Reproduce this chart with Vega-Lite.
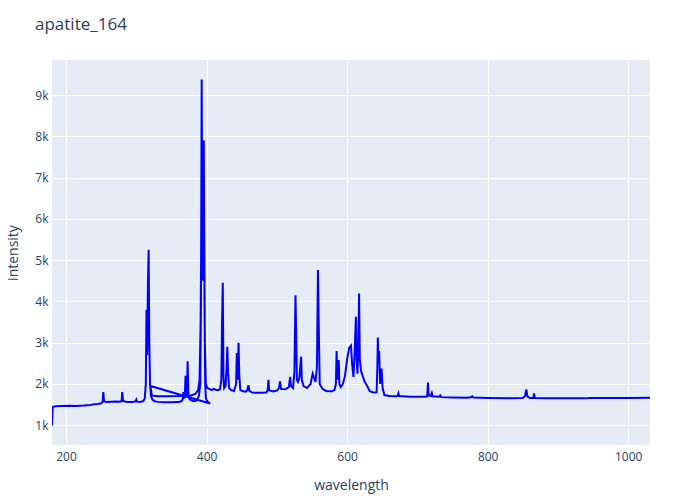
{
  "$schema": "https://vega.github.io/schema/vega-lite/v6.json",
  "autosize": "none",
  "width": 598,
  "height": 385,
  "padding": {"left": 52, "top": 60, "right": 50, "bottom": 55},
  "background": "white",
  "title": {"text": "apatite_164", "anchor": "start", "frame": "group", "dx": -17, "offset": 26, "fontSize": 17, "font": "Open Sans", "fontWeight": "normal", "color": "#2a3f5f"},
  "config": {
    "view": {"fill": "#E5ECF6", "stroke": null},
    "axis": {"gridColor": "white", "gridWidth": 1, "domain": false, "ticks": false, "labelFont": "Open Sans", "labelFontSize": 12, "labelColor": "#2a3f5f", "titleFont": "Open Sans", "titleFontSize": 14, "titleColor": "#2a3f5f", "titleFontWeight": "normal"}
  },
  "data": {"values": [
    {"w":180,"v":1000},{"w":181,"v":1440},{"w":185,"v":1460},{"w":195,"v":1465},{"w":205,"v":1470},{"w":215,"v":1465},{"w":225,"v":1475},{"w":235,"v":1490},{"w":240,"v":1510},{"w":245,"v":1515},{"w":250,"v":1530},{"w":252,"v":1560},{"w":253,"v":1800},{"w":254,"v":1580},{"w":258,"v":1560},{"w":265,"v":1570},{"w":270,"v":1575},{"w":275,"v":1570},{"w":279,"v":1580},{"w":280,"v":1800},{"w":281,"v":1590},{"w":285,"v":1570},{"w":290,"v":1560},{"w":295,"v":1560},{"w":299,"v":1580},{"w":300,"v":1620},{"w":301,"v":1570},{"w":305,"v":1560},{"w":310,"v":1580},{"w":312,"v":1650},{"w":313.5,"v":2000},{"w":314.5,"v":3800},{"w":315.5,"v":2700},{"w":316.5,"v":4400},{"w":317.5,"v":5250},{"w":318.5,"v":3000},{"w":319.5,"v":2000},{"w":321,"v":1700},{"w":323,"v":1620},{"w":326,"v":1580},{"w":330,"v":1565},{"w":340,"v":1555},{"w":350,"v":1555},{"w":360,"v":1560},{"w":364,"v":1580},{"w":366,"v":1620},{"w":367,"v":1800},{"w":368,"v":1650},{"w":369,"v":1700},{"w":370,"v":2200},{"w":371,"v":1700},{"w":372,"v":1750},{"w":373,"v":2550},{"w":374,"v":1800},{"w":375,"v":1650},{"w":378,"v":1600},{"w":382,"v":1580},{"w":386,"v":1600},{"w":389,"v":1700},{"w":391,"v":2000},{"w":392,"v":4000},{"w":393,"v":9380},{"w":394,"v":5000},{"w":395,"v":6300},{"w":396,"v":7900},{"w":397,"v":4000},{"w":398,"v":2000},{"w":399,"v":1650},{"w":401,"v":1580},{"w":405,"v":1525},
    {"w":320,"v":1950},{"w":322,"v":1720},{"w":330,"v":1700},{"w":345,"v":1700},{"w":360,"v":1705},{"w":370,"v":1710},{"w":378,"v":1720},{"w":384,"v":1760},{"w":388,"v":1850},{"w":390,"v":2100},{"w":391.5,"v":3500},{"w":393,"v":7000},{"w":394,"v":4500},{"w":395.5,"v":7800},{"w":396.5,"v":6000},{"w":397.5,"v":3000},{"w":399,"v":2000},{"w":401,"v":1900},{"w":404,"v":1880},{"w":407,"v":1850},{"w":410,"v":1880},{"w":413,"v":1860},{"w":416,"v":1850},{"w":419,"v":1870},{"w":421,"v":2100},{"w":422,"v":3500},{"w":423,"v":4450},{"w":424,"v":2200},{"w":425,"v":1900},{"w":427,"v":1950},{"w":428.5,"v":2400},{"w":429.5,"v":2900},{"w":430.5,"v":2300},{"w":432,"v":1900},{"w":435,"v":1850},{"w":439,"v":1830},{"w":442,"v":2000},{"w":443,"v":2750},{"w":444,"v":2100},{"w":445.5,"v":3000},{"w":446.5,"v":2200},{"w":448,"v":1850},{"w":452,"v":1820},{"w":456,"v":1810},{"w":458,"v":1850},{"w":459.5,"v":1970},{"w":461,"v":1830},{"w":465,"v":1790},{"w":475,"v":1785},{"w":485,"v":1790},{"w":487,"v":1850},{"w":488,"v":2100},{"w":489,"v":1850},{"w":495,"v":1820},{"w":500,"v":1840},{"w":503,"v":1900},{"w":504.5,"v":2060},{"w":506,"v":1880},{"w":512,"v":1870},{"w":517,"v":1920},{"w":519,"v":2170},{"w":520,"v":1950},{"w":523,"v":1900},{"w":525,"v":2300},{"w":526.5,"v":4150},{"w":527.5,"v":3200},{"w":528.5,"v":2100},{"w":530,"v":2050},{"w":532,"v":2150},{"w":534.5,"v":2660},{"w":535.5,"v":2100},{"w":538,"v":1950},{"w":543,"v":1900},{"w":548,"v":2000},{"w":551,"v":2250},{"w":553,"v":2150},{"w":555,"v":2050},{"w":557,"v":2400},{"w":558.5,"v":4760},{"w":559.5,"v":3500},{"w":561,"v":2000},{"w":565,"v":1880},{"w":570,"v":1830},{"w":578,"v":1820},{"w":582,"v":1850},{"w":584,"v":2000},{"w":585,"v":2800},{"w":586,"v":2100},{"w":588,"v":2580},{"w":589,"v":2000},{"w":591,"v":1920},{"w":594,"v":2000},{"w":597,"v":2200},{"w":600,"v":2600},{"w":603,"v":2880},{"w":605.5,"v":2930},{"w":607,"v":2500},{"w":609,"v":2170},{"w":610.5,"v":2700},{"w":612.5,"v":3630},{"w":613.5,"v":2600},{"w":614.7,"v":2250},{"w":616,"v":3000},{"w":617,"v":4190},{"w":618,"v":2600},{"w":620,"v":2300},{"w":622,"v":2200},{"w":625,"v":2050},{"w":628,"v":1970},{"w":632,"v":1830},{"w":636,"v":1800},{"w":640,"v":1790},{"w":642,"v":1800},{"w":643,"v":2400},{"w":643.7,"v":3125},{"w":644.5,"v":2500},{"w":645.5,"v":2800},{"w":647,"v":2000},{"w":649,"v":2375},{"w":650.5,"v":1900},{"w":653,"v":1730},{"w":660,"v":1710},{"w":670,"v":1700},{"w":672,"v":1710},{"w":673,"v":1770},{"w":674,"v":1705},{"w":690,"v":1690},{"w":710,"v":1690},{"w":714,"v":1700},{"w":715,"v":2035},{"w":716,"v":1720},{"w":719,"v":1710},{"w":720.5,"v":1780},{"w":721.5,"v":1700},{"w":731,"v":1690},{"w":732.5,"v":1720},{"w":734,"v":1680},{"w":750,"v":1670},{"w":770,"v":1665},{"w":776,"v":1675},{"w":778,"v":1700},{"w":780,"v":1670},{"w":800,"v":1660},{"w":830,"v":1655},{"w":850,"v":1660},{"w":853,"v":1700},{"w":855,"v":1865},{"w":856.5,"v":1700},{"w":860,"v":1660},{"w":865,"v":1660},{"w":866,"v":1770},{"w":867,"v":1660},{"w":880,"v":1650},{"w":900,"v":1650},{"w":940,"v":1650},{"w":945,"v":1660},{"w":1000,"v":1660},{"w":1031,"v":1665}
  ]},
  "mark": {"type": "line", "color": "#0000ff", "strokeWidth": 2, "clip": true},
  "encoding": {
    "x": {"field": "w", "type": "quantitative", "title": "wavelength", "scale": {"domain": [180, 1031], "nice": false, "zero": false}, "axis": {"values": [200, 400, 600, 800, 1000], "format": "d", "labelPadding": 6, "titlePadding": 16}},
    "y": {"field": "v", "type": "quantitative", "title": "intensity", "scale": {"domain": [520, 9850], "nice": false, "zero": false}, "axis": {"values": [1000, 2000, 3000, 4000, 5000, 6000, 7000, 8000, 9000], "format": "~s", "labelPadding": 4, "titlePadding": 14}},
    "order": {"value": null}
  }
}
